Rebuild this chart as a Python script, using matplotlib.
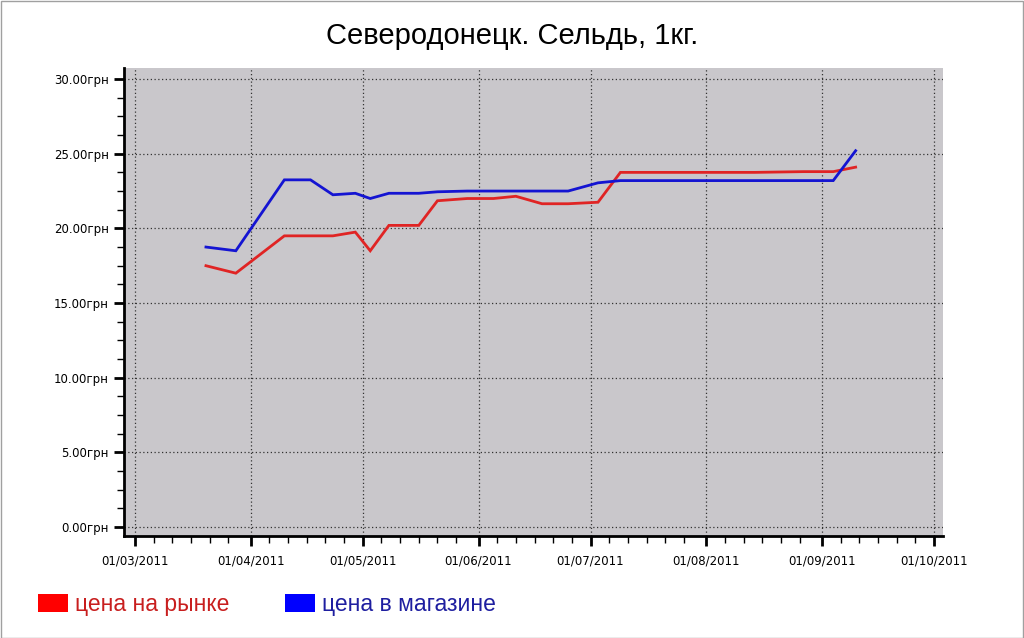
import matplotlib
matplotlib.use("Agg")
import matplotlib.pyplot as plt
import matplotlib.dates as mdates
from matplotlib.ticker import MultipleLocator, FuncFormatter
from matplotlib.patches import Rectangle
import datetime as dt

title = "Северодонецк. Сельдь, 1кг."
series_names = ["цена на рынке", "цена в магазине"]

dates = ["2011-03-20", "2011-03-28", "2011-04-10", "2011-04-17", "2011-04-23",
         "2011-04-29", "2011-05-03", "2011-05-08", "2011-05-16", "2011-05-21",
         "2011-05-29", "2011-06-05", "2011-06-11", "2011-06-18", "2011-06-25",
         "2011-07-03", "2011-07-09", "2011-07-16", "2011-07-29", "2011-08-06",
         "2011-08-14", "2011-08-27", "2011-09-04", "2011-09-10"]

market = [17.5, 17.0, 19.5, 19.5, 19.5, 19.75, 18.5, 20.2, 20.2, 21.85,
          22.0, 22.0, 22.15, 21.65, 21.65, 21.75, 23.75, 23.75, 23.75, 23.75,
          23.75, 23.8, 23.8, 24.1]

store = [18.75, 18.5, 23.25, 23.25, 22.25, 22.35, 22.0, 22.35, 22.35, 22.45,
         22.5, 22.5, 22.5, 22.5, 22.5, 23.05, 23.2, 23.2, 23.2, 23.2,
         23.2, 23.2, 23.2, 25.2]

x = [dt.datetime.strptime(d, "%Y-%m-%d") for d in dates]

W, H = 1024, 638
fig = plt.figure(figsize=(W / 100, H / 100), dpi=100)
fig.patch.set_facecolor("white")

L, R, T, B = 124, 943, 68, 536
ax = fig.add_axes([L / W, 1 - B / H, (R - L) / W, (B - T) / H])
ax.set_facecolor("#c9c7cb")

line_colors = ["#e02424", "#1414d2"]
ax.plot(x, market, color=line_colors[0], lw=2.0, solid_joinstyle="miter", zorder=3)
ax.plot(x, store, color=line_colors[1], lw=2.0, solid_joinstyle="miter", zorder=4)

ax.set_ylim(-0.6, 30.74)
x0 = dt.datetime(2011, 3, 1) - dt.timedelta(days=2.95)
x1 = dt.datetime(2011, 10, 1) + dt.timedelta(days=2.4)
ax.set_xlim(x0, x1)

ax.yaxis.set_major_locator(MultipleLocator(5))
ax.yaxis.set_minor_locator(MultipleLocator(1.25))
ax.yaxis.set_major_formatter(FuncFormatter(lambda v, p: f"{v:.2f}грн"))
ax.xaxis.set_major_locator(mdates.MonthLocator(bymonthday=1))
ax.xaxis.set_minor_locator(mdates.DayLocator(bymonthday=[6, 11, 16, 21, 26]))
ax.xaxis.set_major_formatter(mdates.DateFormatter("%d/%m/%Y"))

for s in ["top", "right"]:
    ax.spines[s].set_visible(False)
for s in ["left", "bottom"]:
    ax.spines[s].set_linewidth(2)
    ax.spines[s].set_color("black")

ax.tick_params(which="major", direction="out", length=7, width=2, color="black",
               labelsize=8.5, pad=4)
ax.tick_params(axis="x", which="major", pad=6.5)
ax.tick_params(which="minor", direction="out", length=5, width=1, color="black")

ax.grid(True, which="major", color="#333333", linestyle=(0, (1, 2)), lw=0.9)
ax.set_axisbelow(True)

fig.text(0.5, 1 - 36 / H, title, ha="center", va="center",
         fontsize=21, family="Liberation Sans", color="black")

# legend
leg_rects = [38, 285]
leg_text_colors = ["#c81e1e", "#1e1ea0"]
rect_colors = ["#ff0000", "#0000ff"]
for i, name in enumerate(series_names):
    xr = leg_rects[i]
    fig.patches.append(Rectangle((xr / W, 1 - 612 / H), 30 / W, 18 / H,
                                 transform=fig.transFigure, facecolor=rect_colors[i],
                                 edgecolor="none"))
    fig.text((xr + 37) / W, 1 - 604 / H, name, ha="left", va="center",
             fontsize=16.5, family="Liberation Sans", color=leg_text_colors[i])

fig.patches.append(Rectangle((0.5 / W, 0.5 / H), (W - 1.5) / W, (H - 1.5) / H,
                             transform=fig.transFigure, facecolor="none",
                             edgecolor="#a0a0a0", lw=1))

fig.savefig("out.png", dpi=100)
